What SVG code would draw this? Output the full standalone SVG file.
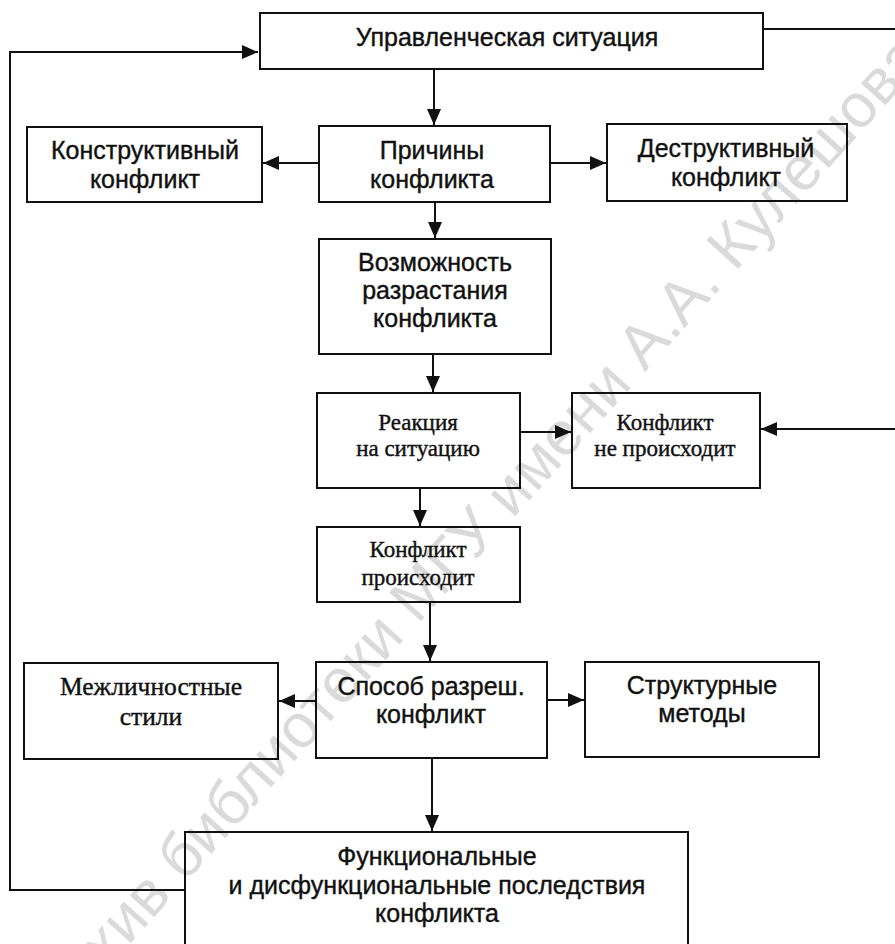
<svg xmlns="http://www.w3.org/2000/svg" width="895" height="944" viewBox="0 0 895 944">
<style>
.box{fill:none;stroke:#111;stroke-width:2}
.ln{fill:none;stroke:#111;stroke-width:2}
.s{font-family:"Liberation Sans",Arial,sans-serif;font-size:25px;fill:#111;stroke:#111;stroke-width:0.4;text-anchor:middle}
.r{font-family:"Liberation Serif","Times New Roman",serif;font-size:23px;fill:#111;stroke:#111;stroke-width:0.4;text-anchor:middle}
.wm{font-family:"Liberation Sans",Arial,sans-serif;font-size:62px;fill:#dadada;text-anchor:middle}
</style>
<defs>
<marker id="ah" markerUnits="userSpaceOnUse" markerWidth="16" markerHeight="14" refX="16" refY="7" orient="auto">
<path d="M0,0 L16,7 L0,14 Z" fill="#111"/>
</marker>
</defs>
<rect width="895" height="944" fill="#fff"/>
<text class="wm" transform="translate(492,542) rotate(-48)">Архив библиотеки МГУ имени А.А. Кулешова</text>
<g id="connectors">
<path class="ln" d="M185,890 H10 V52 H258" marker-end="url(#ah)"/>
<path class="ln" d="M763,29 H895"/>
<path class="ln" d="M895,429 H761" marker-end="url(#ah)"/>
<path class="ln" d="M434,69 V125" marker-end="url(#ah)"/>
<path class="ln" d="M319,163 H263" marker-end="url(#ah)"/>
<path class="ln" d="M550,163 H606" marker-end="url(#ah)"/>
<path class="ln" d="M435,202 V238" marker-end="url(#ah)"/>
<path class="ln" d="M433,354 V392" marker-end="url(#ah)"/>
<path class="ln" d="M520,432 H571" marker-end="url(#ah)"/>
<path class="ln" d="M420,488 V526" marker-end="url(#ah)"/>
<path class="ln" d="M430,602 V661" marker-end="url(#ah)"/>
<path class="ln" d="M316,701 H279" marker-end="url(#ah)"/>
<path class="ln" d="M547,700 H584" marker-end="url(#ah)"/>
<path class="ln" d="M432,758 V831" marker-end="url(#ah)"/>
</g>
<g id="n-situation">
<rect class="box" x="260" y="13" width="503" height="56"/>
<text class="s" x="507" y="46">Управленческая ситуация</text>
</g>
<g id="n-constructive">
<rect class="box" x="27" y="127" width="235" height="75"/>
<text class="s" x="145" y="159">Конструктивный</text>
<text class="s" x="145" y="188">конфликт</text>
</g>
<g id="n-causes">
<rect class="box" x="319" y="126" width="231" height="76"/>
<text class="s" x="432" y="159">Причины</text>
<text class="s" x="432" y="188">конфликта</text>
</g>
<g id="n-destructive">
<rect class="box" x="607" y="124" width="240" height="77"/>
<text class="s" x="726" y="157">Деструктивный</text>
<text class="s" x="726" y="186">конфликт</text>
</g>
<g id="n-growth">
<rect class="box" x="319" y="239" width="232" height="115"/>
<text class="s" x="435" y="271">Возможность</text>
<text class="s" x="435" y="299">разрастания</text>
<text class="s" x="435" y="327">конфликта</text>
</g>
<g id="n-reaction">
<rect class="box" x="317" y="393" width="203" height="95"/>
<text class="r" x="418" y="430">Реакция</text>
<text class="r" x="418" y="456">на ситуацию</text>
</g>
<g id="n-no-conflict">
<rect class="box" x="572" y="393" width="188" height="95"/>
<text class="r" x="665" y="430">Конфликт</text>
<text class="r" x="665" y="456">не происходит</text>
</g>
<g id="n-conflict">
<rect class="box" x="317" y="527" width="203" height="75"/>
<text class="r" x="418" y="557">Конфликт</text>
<text class="r" x="418" y="585">происходит</text>
</g>
<g id="n-resolution">
<rect class="box" x="316" y="662" width="231" height="96"/>
<text class="s" x="431" y="695">Способ разреш.</text>
<text class="s" x="431" y="723">конфликт</text>
</g>
<g id="n-interpersonal">
<rect class="box" x="24" y="663" width="254" height="96"/>
<text class="r" x="151" y="695" style="font-size:25.5px">Межличностные</text>
<text class="r" x="151" y="725" style="font-size:25.5px">стили</text>
</g>
<g id="n-structural">
<rect class="box" x="585" y="662" width="234" height="95"/>
<text class="s" x="702" y="694">Структурные</text>
<text class="s" x="702" y="722">методы</text>
</g>
<g id="n-consequences">
<rect class="box" x="185" y="832" width="503" height="120"/>
<text class="s" x="437" y="865">Функциональные</text>
<text class="s" x="437" y="894">и дисфункциональные последствия</text>
<text class="s" x="437" y="922">конфликта</text>
</g>
</svg>
